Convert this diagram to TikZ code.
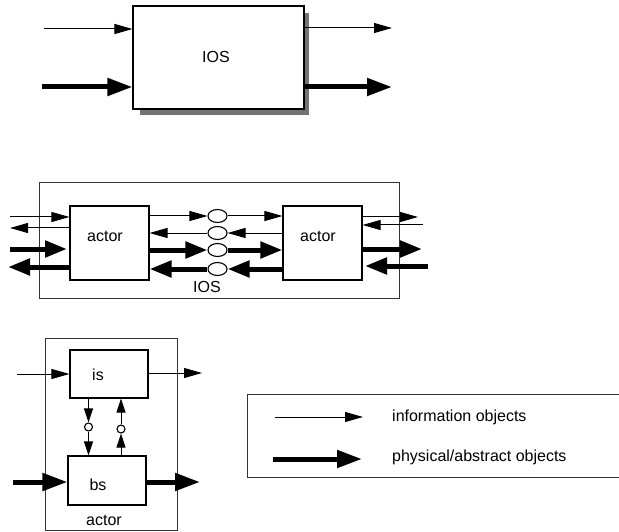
\documentclass[tikz,border=0pt]{standalone}
\usepackage{fontspec}
\setmainfont{Liberation Sans}
\usetikzlibrary{arrows.meta,shapes.geometric}
\begin{document}
\begin{tikzpicture}[x=1pt,y=-1pt,
  txt/.style={font=\fontsize{16}{19}\selectfont, inner sep=0pt},
  boxs/.style={draw, line width=1.1pt, fill=white, inner sep=0pt},
  frame/.style={draw=black!80, line width=0.8pt},
  info/.style={line width=1pt, -{Triangle[length=18pt,width=10pt]}},
  phys/.style={line width=5pt, -{Triangle[length=25pt,width=17pt]}},
  physm/.style={line width=5pt, -{Triangle[length=22pt,width=16pt]}},
  infos/.style={line width=1pt, -{Triangle[length=14pt,width=9pt]}},
  oval/.style={draw, line width=1.1pt, ellipse, fill=white, inner sep=0pt,
    minimum width=19pt, minimum height=13pt},
  dot/.style={draw, line width=1.1pt, circle, fill=white, inner sep=0pt,
    minimum size=8pt}]
\useasboundingbox (0,0) rectangle (619,532);

% ---------- single IOS ----------
\fill[black!55] (140,13) rectangle (309,115);
\node[boxs, minimum width=171pt, minimum height=103pt] (ios) at (218.5,57.5) {};
\node[txt] (iostxt) at (216,57) {IOS};
\coordinate (tin) at (44,29);
\coordinate (pin) at (42,87);
\coordinate (tout) at (392,28);
\coordinate (pout) at (392,87);
\draw[info] (tin) -- (ios.west |- tin);
\draw[phys] (pin) -- (ios.west |- pin);
\draw[info] (ios.east |- tout) -- (tout);
\draw[phys] (ios.east |- pout) -- (pout);

% ---------- two actors inside an IOS ----------
\draw[frame] (39,182) rectangle (399,298);
\node[boxs, minimum width=79pt, minimum height=74pt] (la) at (109.5,243) {};
\node[boxs, minimum width=79pt, minimum height=74pt] (ra) at (322.5,243) {};
\node[txt] (latxt) at (105,236) {actor};
\node[txt] (ratxt) at (318,236) {actor};
\node[txt] (ios2txt) at (207,287) {IOS};

\node[oval] (e1) at (217.5,216) {};
\node[oval] (e2) at (217.5,233) {};
\node[oval] (e3) at (217.5,250) {};
\node[oval] (e4) at (217.5,269) {};
\draw[info] (la.east |- e1) -- (e1.west);
\draw[info] (e1.east) -- (ra.west |- e1);
\draw[info] (ra.west |- e2) -- (e2.east);
\draw[info] (e2.west) -- (la.east |- e2);
\draw[physm] (la.east |- e3) -- (e3.west);
\draw[physm] (e3.east) -- (ra.west |- e3);
\draw[physm] (ra.west |- e4) -- (e4.east);
\draw[physm] (e4.west) -- (la.east |- e4);

% outer connections, left actor
\coordinate (l1) at (10,217);
\coordinate (l2) at (10,228);
\coordinate (l3) at (10,249);
\coordinate (l4) at (8,267);
\coordinate (l3end) at (67,249);
\draw[info] (l1) -- (la.west |- l1);
\draw[info] (la.west |- l2) -- (l2);
\draw[physm] (l3) -- (l3end);
\draw[physm] (la.west |- l4) -- (l4);

% outer connections, right actor
\coordinate (r1) at (418,217);
\coordinate (r2) at (423,225);
\coordinate (r3) at (422,249);
\coordinate (r4) at (428,266);
\coordinate (r4end) at (365,266);
\draw[info] (ra.east |- r1) -- (r1);
\draw[info] (r2) -- (ra.east |- r2);
\draw[physm] (ra.east |- r3) -- (r3);
\draw[physm] (r4) -- (r4end);

% ---------- inside an actor ----------
\draw[frame] (45,338) rectangle (177,530);
\node[boxs, minimum width=78pt, minimum height=48pt] (is) at (109,374) {};
\node[boxs, minimum width=78pt, minimum height=49pt] (bs) at (107,480.5) {};
\node[txt] (istxt) at (98,375) {is};
\node[txt] (bstxt) at (98,485) {bs};
\node[txt] (acttxt) at (104,520) {actor};
\node[dot] (c1) at (88.5,427) {};
\node[dot] (c2) at (121,429) {};
\draw[infos] (is.south -| c1) -- (c1.north);
\draw[infos] (c1.south) -- (bs.north -| c1);
\draw[infos] (bs.north -| c2) -- (c2.south);
\draw[infos] (c2.north) -- (is.south -| c2);

\coordinate (iin) at (17,374);
\coordinate (iout) at (202,373);
\coordinate (bin) at (13,482);
\coordinate (bout) at (200,482);
\draw[info] (iin) -- (is.west |- iin);
\draw[info] (is.east |- iout) -- (iout);
\draw[phys] (bin) -- (bs.west |- bin);
\draw[phys] (bs.east |- bout) -- (bout);

% ---------- legend ----------
\draw[frame] (619,394) -- (247,394) -- (247,477) -- (619,477);
\coordinate (k1a) at (275,417);
\coordinate (k1b) at (363,417);
\coordinate (k2a) at (273,459);
\coordinate (k2b) at (362,459);
\draw[info] (k1a) -- (k1b);
\draw[phys] (k2a) -- (k2b);
\node[txt, anchor=west] (k1txt) at (392,417) {information objects};
\node[txt, anchor=west] (k2txt) at (392,457) {physical/abstract objects};
\end{tikzpicture}
\end{document}
